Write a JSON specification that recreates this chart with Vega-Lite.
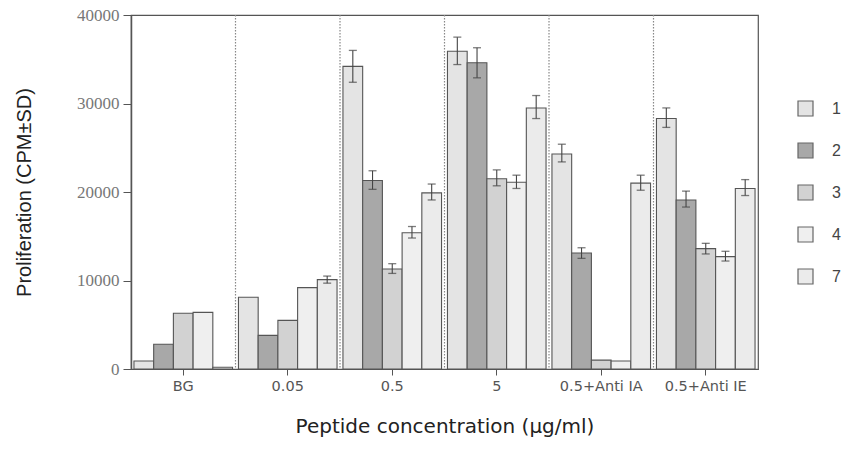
{
  "$schema": "https://vega.github.io/schema/vega-lite/v6.json",
  "width": 627,
  "height": 354,
  "autosize": {"type": "none"},
  "padding": {"left": 131, "top": 15, "right": 93, "bottom": 99},
  "background": "white",
  "config": {
    "view": {"stroke": "#555", "strokeWidth": 1.2},
    "font": "Liberation Sans"
  },
  "datasets": {
    "bars": [
      {"g": "BG", "s": "1", "v": 900, "lo": null, "hi": null},
      {"g": "BG", "s": "2", "v": 2800, "lo": null, "hi": null},
      {"g": "BG", "s": "3", "v": 6300, "lo": null, "hi": null},
      {"g": "BG", "s": "4", "v": 6400, "lo": null, "hi": null},
      {"g": "BG", "s": "7", "v": 200, "lo": null, "hi": null},
      {"g": "0.05", "s": "1", "v": 8100, "lo": null, "hi": null},
      {"g": "0.05", "s": "2", "v": 3800, "lo": null, "hi": null},
      {"g": "0.05", "s": "3", "v": 5500, "lo": null, "hi": null},
      {"g": "0.05", "s": "4", "v": 9200, "lo": null, "hi": null},
      {"g": "0.05", "s": "7", "v": 10100, "lo": 9700, "hi": 10500},
      {"g": "0.5", "s": "1", "v": 34200, "lo": 32400, "hi": 36000},
      {"g": "0.5", "s": "2", "v": 21300, "lo": 20300, "hi": 22400},
      {"g": "0.5", "s": "3", "v": 11300, "lo": 10800, "hi": 11900},
      {"g": "0.5", "s": "4", "v": 15400, "lo": 14800, "hi": 16100},
      {"g": "0.5", "s": "7", "v": 19900, "lo": 19100, "hi": 20900},
      {"g": "5", "s": "1", "v": 35900, "lo": 34400, "hi": 37500},
      {"g": "5", "s": "2", "v": 34600, "lo": 32900, "hi": 36300},
      {"g": "5", "s": "3", "v": 21500, "lo": 20700, "hi": 22500},
      {"g": "5", "s": "4", "v": 21100, "lo": 20400, "hi": 21900},
      {"g": "5", "s": "7", "v": 29500, "lo": 28300, "hi": 30900},
      {"g": "0.5+Anti  IA", "s": "1", "v": 24300, "lo": 23400, "hi": 25400},
      {"g": "0.5+Anti  IA", "s": "2", "v": 13100, "lo": 12500, "hi": 13700},
      {"g": "0.5+Anti  IA", "s": "3", "v": 1000, "lo": null, "hi": null},
      {"g": "0.5+Anti  IA", "s": "4", "v": 900, "lo": null, "hi": null},
      {"g": "0.5+Anti  IA", "s": "7", "v": 21000, "lo": 20200, "hi": 21900},
      {"g": "0.5+Anti  IE", "s": "1", "v": 28300, "lo": 27300, "hi": 29500},
      {"g": "0.5+Anti  IE", "s": "2", "v": 19100, "lo": 18300, "hi": 20100},
      {"g": "0.5+Anti  IE", "s": "3", "v": 13600, "lo": 13000, "hi": 14200},
      {"g": "0.5+Anti  IE", "s": "4", "v": 12700, "lo": 12200, "hi": 13300},
      {"g": "0.5+Anti  IE", "s": "7", "v": 20400, "lo": 19600, "hi": 21400}
    ],
    "seps": [
      {"g": "0.05"}, {"g": "0.5"}, {"g": "5"}, {"g": "0.5+Anti  IA"}, {"g": "0.5+Anti  IE"}
    ]
  },
  "resolve": {"axis": {"x": "independent"}},
  "layer": [
    {
      "data": {"name": "bars"},
      "mark": {"type": "bar", "stroke": "#555", "strokeWidth": 1.1},
      "encoding": {
        "x": {"field": "g", "type": "nominal",
              "scale": {"domain": ["BG", "0.05", "0.5", "5", "0.5+Anti  IA", "0.5+Anti  IE"], "paddingInner": 0, "paddingOuter": 0},
              "axis": {"title": "Peptide concentration (μg/ml)", "labelAngle": 0, "labelAlign": "center", "bandPosition": 0.5,
                       "labelFont": "DejaVu Sans", "labelFontSize": 14.5,
                       "labelColor": "#555", "labelPadding": 4, "tickColor": "#555", "tickSize": 6, "domainColor": "#555",
                       "titleFont": "DejaVu Sans", "titleFontSize": 20, "titleFontWeight": "normal", "titleColor": "#222", "titlePadding": 24}},
        "xOffset": {"field": "s", "type": "nominal", "scale": {"paddingInner": 0, "paddingOuter": 0.15}},
        "y": {"field": "v", "type": "quantitative",
              "scale": {"domain": [0, 40000]},
              "axis": {"title": "Proliferation (CPM±SD)", "values": [0, 10000, 20000, 30000, 40000], "grid": false,
                       "labelFont": "Liberation Serif", "labelFontSize": 17, "labelColor": "#777", "format": "d", "labelPadding": 4,
                       "tickColor": "#555", "tickSize": 8, "domainColor": "#555", "domainWidth": 1.5,
                       "titleFont": "Liberation Sans", "titleFontSize": 20, "titleFontWeight": "normal", "titleColor": "#222", "titlePadding": 42}},
        "fill": {"field": "s", "type": "nominal",
                 "scale": {"domain": ["1", "2", "3", "4", "7"], "range": ["#e4e4e4", "#a8a8a8", "#d2d2d2", "#efefef", "#ebebeb"]},
                 "legend": {"title": null, "orient": "none", "legendX": 666, "legendY": 85, "symbolType": "square", "symbolSize": 225,
                            "symbolStrokeColor": "#666", "symbolStrokeWidth": 1.2, "labelFont": "Liberation Sans", "labelFontSize": 16,
                            "labelColor": "#444", "labelOffset": 18, "rowPadding": 21}}
      }
    },
    {
      "data": {"name": "seps"},
      "mark": {"type": "rule", "color": "#888", "strokeDash": [1.5, 1.5], "strokeWidth": 1.2},
      "encoding": {
        "x": {"field": "g", "type": "nominal", "bandPosition": 0, "axis": null}
      }
    },
    {
      "data": {"name": "bars"},
      "transform": [{"filter": "datum.hi != null"}],
      "mark": {"type": "rule", "color": "#444", "strokeWidth": 1.1},
      "encoding": {
        "x": {"field": "g", "type": "nominal", "axis": null},
        "xOffset": {"field": "s", "type": "nominal"},
        "y": {"field": "lo", "type": "quantitative"},
        "y2": {"field": "hi"}
      }
    },
    {
      "data": {"name": "bars"},
      "transform": [{"filter": "datum.hi != null"}],
      "mark": {"type": "tick", "color": "#444", "size": 8, "thickness": 1.3, "orient": "horizontal"},
      "encoding": {
        "x": {"field": "g", "type": "nominal", "axis": null},
        "xOffset": {"field": "s", "type": "nominal"},
        "y": {"field": "hi", "type": "quantitative"}
      }
    },
    {
      "data": {"name": "bars"},
      "transform": [{"filter": "datum.hi != null"}],
      "mark": {"type": "tick", "color": "#444", "size": 8, "thickness": 1.3, "orient": "horizontal"},
      "encoding": {
        "x": {"field": "g", "type": "nominal", "axis": null},
        "xOffset": {"field": "s", "type": "nominal"},
        "y": {"field": "lo", "type": "quantitative"}
      }
    }
  ]
}
